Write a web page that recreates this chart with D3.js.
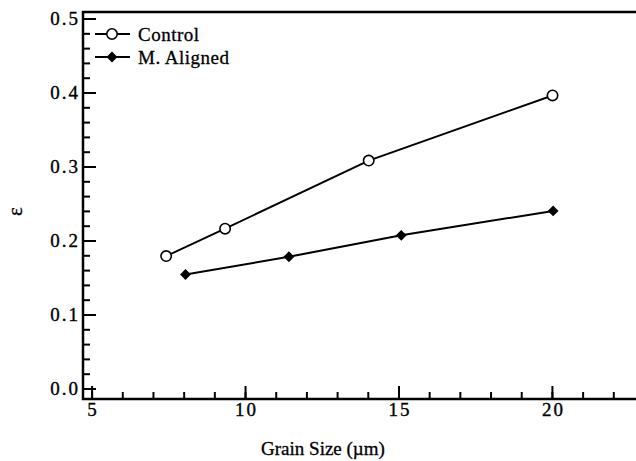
<!DOCTYPE html>
<html><head><meta charset="utf-8">
<script src="https://cdn.jsdelivr.net/npm/d3@7"></script>
<style>
html,body{margin:0;padding:0;background:#fff;}
svg{display:block;}
text{font-family:"Liberation Serif","Times New Roman",serif;fill:#000;}
</style></head>
<body>
<svg id="chart" width="636" height="461"></svg>
<script>
const seriesNames = ["Control", "M. Aligned"];
const controlX = [7.43, 9.35, 14.03, 20.02];
const controlY = [0.179, 0.216, 0.308, 0.396];
const alignedX = [8.06, 11.43, 15.09, 20.04];
const alignedY = [0.154, 0.178, 0.207, 0.240];
const xMajorTicks = [5, 10, 15, 20];
const xMinorTicks = d3.range(5, 23, 1);
const yMajorTicks = [0.0, 0.1, 0.2, 0.3, 0.4, 0.5];
const yMinorTicks = d3.range(0, 0.501, 0.02);
const xTitle = "Grain Size (\u00b5m)";
const yTitle = "\u03b5";

const FONT = "Liberation Serif";
const L = 83, R = 636, T = 12, B = 399;
const svg = d3.select("#chart");
const x = d3.scaleLinear().domain([4.72, 22.74]).range([L, R]);
const y = d3.scaleLinear().domain([-0.0142, 0.5088]).range([B, T]);

// minor ticks
svg.append("g").attr("transform", `translate(0,${B})`)
  .call(d3.axisBottom(x).tickValues(xMinorTicks).tickSize(-7).tickFormat(""))
  .call(g => g.select(".domain").remove())
  .call(g => g.selectAll("line").attr("stroke", "#000").attr("stroke-width", 2));
svg.append("g").attr("transform", `translate(${L},0)`)
  .call(d3.axisLeft(y).tickValues(yMinorTicks).tickSize(-7).tickFormat(""))
  .call(g => g.select(".domain").remove())
  .call(g => g.selectAll("line").attr("stroke", "#000").attr("stroke-width", 2));

// major ticks
const gx = svg.append("g").attr("transform", `translate(0,${B})`)
  .call(d3.axisBottom(x).tickValues(xMajorTicks).tickSize(-13).tickPadding(4).tickFormat(d3.format("d")));
gx.select(".domain").remove();
gx.selectAll("line").attr("stroke", "#000").attr("stroke-width", 2);
gx.selectAll("text").attr("font-size", 19).attr("font-family", FONT).attr("fill", "#000")
  .attr("stroke", "#000").attr("stroke-width", 0.35).attr("letter-spacing", 2).attr("dx", 1);

const gy = svg.append("g").attr("transform", `translate(${L},0)`)
  .call(d3.axisLeft(y).tickValues(yMajorTicks).tickSize(-13).tickPadding(3).tickFormat(d3.format(".1f")));
gy.select(".domain").remove();
gy.selectAll("line").attr("stroke", "#000").attr("stroke-width", 2);
gy.selectAll("text").attr("font-size", 19).attr("font-family", FONT).attr("fill", "#000")
  .attr("stroke", "#000").attr("stroke-width", 0.35).attr("letter-spacing", 2);

// frame: left, bottom, top
svg.append("path")
  .attr("d", `M${R},${T}H${L}V${B}H${R}`)
  .attr("fill", "none").attr("stroke", "#000").attr("stroke-width", 2.5);

// titles
svg.append("text").attr("x", 323).attr("y", 455)
  .attr("text-anchor", "middle").attr("font-size", 19)
  .attr("stroke", "#000").attr("stroke-width", 0.3).text(xTitle);
svg.append("text").attr("transform", `translate(22,${y(0.239)}) rotate(-90)`)
  .attr("text-anchor", "middle").attr("font-size", 21)
  .attr("stroke", "#000").attr("stroke-width", 0.3).text(yTitle);

const line = d3.line().x(d => x(d[0])).y(d => y(d[1]));
const ctrl = controlX.map((v, i) => [v, controlY[i]]);
const alig = alignedX.map((v, i) => [v, alignedY[i]]);

svg.append("path").datum(ctrl).attr("d", line).attr("fill", "none").attr("stroke", "#000").attr("stroke-width", 2);
svg.append("path").datum(alig).attr("d", line).attr("fill", "none").attr("stroke", "#000").attr("stroke-width", 2);

const diamond = d3.symbol().type(d3.symbolDiamond2).size(75);
svg.selectAll(".c").data(ctrl).join("circle")
  .attr("cx", d => x(d[0])).attr("cy", d => y(d[1])).attr("r", 5.2)
  .attr("fill", "#fff").attr("stroke", "#000").attr("stroke-width", 1.6);
svg.selectAll(".a").data(alig).join("path")
  .attr("transform", d => `translate(${x(d[0])},${y(d[1])})`)
  .attr("d", diamond).attr("fill", "#000");

// legend
const lg = svg.append("g");
const rows = [{name: seriesNames[0], y: 34, type: "circle"}, {name: seriesNames[1], y: 57, type: "diamond"}];
rows.forEach(r => {
  lg.append("line").attr("x1", 95).attr("x2", 130).attr("y1", r.y).attr("y2", r.y)
    .attr("stroke", "#000").attr("stroke-width", 2);
  if (r.type === "circle") {
    lg.append("circle").attr("cx", 112).attr("cy", r.y).attr("r", 5.2)
      .attr("fill", "#fff").attr("stroke", "#000").attr("stroke-width", 1.6);
  } else {
    lg.append("path").attr("transform", `translate(112,${r.y})`).attr("d", diamond).attr("fill", "#000");
  }
  lg.append("text").attr("x", 138).attr("y", r.y).attr("dy", "0.35em")
    .attr("font-size", 19).attr("letter-spacing", 0.5)
    .attr("stroke", "#000").attr("stroke-width", 0.3).text(r.name);
});
</script>
</body></html>
